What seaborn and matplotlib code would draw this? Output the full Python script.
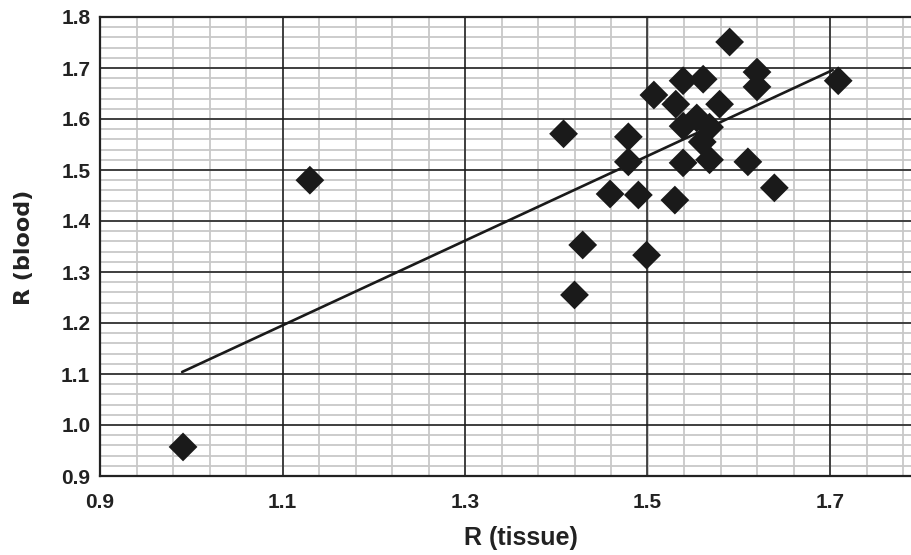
import matplotlib
matplotlib.use("Agg")
import matplotlib.pyplot as plt
import seaborn as sns
import numpy as np
import pandas as pd

# ---- data ----
r_tissue = [0.991, 1.130, 1.408, 1.479, 1.479, 1.459, 1.490, 1.530, 1.429, 1.499,
            1.420, 1.507, 1.539, 1.561, 1.590, 1.620, 1.620, 1.709, 1.531, 1.579,
            1.539, 1.554, 1.568, 1.560, 1.568, 1.539, 1.610, 1.639]
r_blood = [0.957, 1.480, 1.571, 1.565, 1.516, 1.453, 1.451, 1.441, 1.353, 1.333,
           1.255, 1.647, 1.675, 1.678, 1.751, 1.692, 1.663, 1.675, 1.629, 1.629,
           1.586, 1.602, 1.584, 1.555, 1.520, 1.514, 1.516, 1.465]
fit_x = [0.990, 1.703]
fit_y = [1.104, 1.696]
x_ticks = [0.9, 1.1, 1.3, 1.5, 1.7]
x_tick_labels = ["0.9", "1.1", "1.3", "1.5", "1.7"]
y_ticks = [0.9, 1.0, 1.1, 1.2, 1.3, 1.4, 1.5, 1.6, 1.7, 1.8]
y_tick_labels = ["0.9", "1.0", "1.1", "1.2", "1.3", "1.4", "1.5", "1.6", "1.7", "1.8"]

df = pd.DataFrame({"R (tissue)": r_tissue, "R (blood)": r_blood})
fit = pd.DataFrame({"x": fit_x, "y": fit_y})

sns.set_style("white")
narrow = ["Liberation Sans Narrow", "Liberation Sans", "DejaVu Sans"]
plt.rcParams["font.family"] = narrow

fig = plt.figure(figsize=(9.12, 5.55), dpi=100)
ax = fig.add_axes([100 / 912, (555 - 476) / 555, 812 / 912, (476 - 17) / 555])

dark = "#1a1a1a"
sns.lineplot(data=fit, x="x", y="y", ax=ax, color=dark, linewidth=1.9,
             zorder=3, sort=False)
sns.scatterplot(data=df, x="R (tissue)", y="R (blood)", ax=ax, marker="D",
                s=215, color=dark, edgecolor="none", linewidth=0, zorder=4)

xmax = 0.9 + 812 / 912.5
ax.set_xlim(0.9, xmax)
ax.set_ylim(0.9, 1.8)

# background grid: minor gray (0.04 in x, 0.02 in y), major black
ax.grid(False)
for gx in np.arange(0.94, xmax, 0.04):
    ax.axvline(gx, color="#c8c8c8", linewidth=1.3, zorder=1)
for gy in np.arange(0.92, 1.79, 0.02):
    ax.axhline(gy, color="#c8c8c8", linewidth=1.3, zorder=1)
for t in x_ticks[1:]:
    ax.axvline(t, color="#1a1a1a", linewidth=1.1, zorder=1.5)
for t in y_ticks[1:-1]:
    ax.axhline(t, color="#1a1a1a", linewidth=1.1, zorder=1.5)

ax.set_xticks(x_ticks)
ax.set_xticklabels(x_tick_labels)
ax.set_yticks(y_ticks)
ax.set_yticklabels(y_tick_labels)
ax.tick_params(which="both", length=0)
ax.tick_params(axis="x", pad=12)
ax.tick_params(axis="y", pad=7)
for lab in ax.get_xticklabels() + ax.get_yticklabels():
    lab.set_fontweight("bold")
    lab.set_fontsize(15)
    lab.set_color("#222222")

for side in ["left", "bottom", "top"]:
    ax.spines[side].set_visible(True)
    ax.spines[side].set_color("#222222")
    ax.spines[side].set_linewidth(1.6)
    ax.spines[side].set_zorder(2)
ax.spines["right"].set_visible(False)

ax.set_xlabel("R (tissue)", fontsize=18, fontweight="bold", color="#222222",
              family=narrow, va="center", ha="center")
ax.xaxis.set_label_coords((521 - 100) / 812, (476 - 538) / 459)
ax.set_ylabel("R (blood)", fontsize=16, fontweight="bold", color="#222222",
              family=["DejaVu Sans"], va="center", ha="center")
ax.yaxis.set_label_coords((24 - 100) / 812, (476 - 247) / 459)

fig.savefig("out.png", dpi=100)
